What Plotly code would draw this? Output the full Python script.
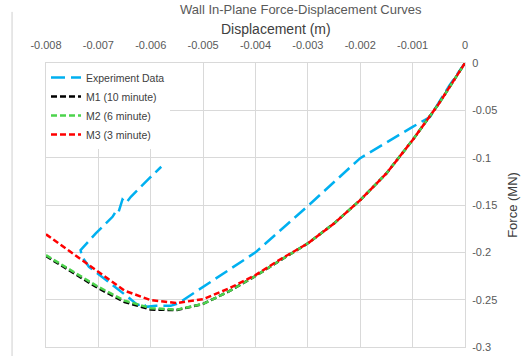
import plotly.graph_objects as go

# ---- data ----
exp_x = [0, -0.0003, -0.00067, -0.001, -0.002, -0.003, -0.004, -0.0045, -0.0051,
         -0.00548, -0.00562, -0.0059, -0.00609, -0.00615, -0.00625, -0.00644,
         -0.00718, -0.00731, -0.00734, -0.00705, -0.00673, -0.00667, -0.00662,
         -0.00654, -0.00647, -0.00638, -0.00603, -0.0058]
exp_y = [0, -0.024, -0.057, -0.0675, -0.1005, -0.151, -0.2, -0.218, -0.2395,
         -0.254, -0.2565, -0.2565, -0.2576, -0.2534, -0.2558, -0.247,
         -0.2153, -0.2048, -0.1977, -0.180, -0.1625, -0.157, -0.1585,
         -0.1441, -0.1477, -0.1413, -0.1219, -0.1096]

model_x = [-0.008, -0.0075, -0.007, -0.0065, -0.006, -0.0055, -0.005, -0.0045,
           -0.004, -0.0035, -0.003, -0.0025, -0.002, -0.0015, -0.001, -0.0005, 0]
m1_y = [-0.204, -0.221, -0.238, -0.2525, -0.2605, -0.261, -0.2545, -0.241,
        -0.225, -0.2075, -0.1905, -0.1695, -0.1448, -0.1166, -0.0814, -0.043, 0]
m2_y = [-0.203, -0.220, -0.2365, -0.251, -0.259, -0.2605, -0.2545, -0.241,
        -0.225, -0.2075, -0.1905, -0.1695, -0.1448, -0.1166, -0.0814, -0.043, 0]
m3_y = [-0.181, -0.201, -0.221, -0.2405, -0.2505, -0.2535, -0.2495, -0.238,
        -0.224, -0.2065, -0.1905, -0.1695, -0.1448, -0.1166, -0.0814, -0.043, 0]

x_tickvals = [-0.008, -0.007, -0.006, -0.005, -0.004, -0.003, -0.002, -0.001, 0]
x_ticktext = ["-0.008", "-0.007", "-0.006", "-0.005", "-0.004", "-0.003", "-0.002", "-0.001", "0"]
y_tickvals = [0, -0.05, -0.1, -0.15, -0.2, -0.25, -0.3]
y_ticktext = ["0", "-0.05", "-0.1", "-0.15", "-0.2", "-0.25", "-0.3"]

names = ["Experiment Data", "M1 (10 minute)", "M2 (6 minute)", "M3 (3 minute)"]
title_text = "Wall In-Plane Force-Displacement Curves"
x_title = "Displacement (m)"
y_title = "Force (MN)"

FONT = "Liberation Sans, Arial, sans-serif"
GRID = "#d9d9d9"
TXT = "#595959"

fig = go.Figure()
fig.add_trace(go.Scatter(x=exp_x, y=exp_y, mode="lines", name=names[0],
                         line=dict(color="#00b0f0", width=2.5, dash="14px,6px")))
fig.add_trace(go.Scatter(x=model_x, y=m1_y, mode="lines", name=names[1],
                         line=dict(color="#000000", width=2.5, dash="6px,3px")))
fig.add_trace(go.Scatter(x=model_x, y=m2_y, mode="lines", name=names[2],
                         line=dict(color="#4cd34c", width=2.5, dash="6px,3px")))
fig.add_trace(go.Scatter(x=model_x, y=m3_y, mode="lines", name=names[3],
                         line=dict(color="#ff0000", width=2.5, dash="6px,3px")))

fig.update_layout(
    width=526, height=356,
    margin=dict(l=46, r=61, t=63, b=9),
    paper_bgcolor="white", plot_bgcolor="white",
    font=dict(family=FONT, size=11, color=TXT),
    showlegend=True,
    legend=dict(x=0.0, y=1.0, xanchor="left", yanchor="top",
                bgcolor="white", borderwidth=0, itemwidth=30,
                font=dict(family=FONT, size=10.5, color="#404040"),
                tracegroupgap=0),
    xaxis=dict(range=[-0.008, 0], side="top", tickvals=x_tickvals, ticktext=x_ticktext,
               showgrid=True, gridcolor=GRID, gridwidth=1, zeroline=False,
               showline=True, linecolor=GRID, mirror=True, ticks="", automargin=False,
               ticklabelstandoff=9, tickfont=dict(size=11, color=TXT)),
    yaxis=dict(range=[-0.3, 0], side="right", tickvals=y_tickvals, ticktext=y_ticktext,
               showgrid=True, gridcolor=GRID, gridwidth=1, zeroline=False,
               showline=True, linecolor=GRID, mirror=True, ticks="", automargin=False,
               ticklabelstandoff=4, tickfont=dict(size=11, color=TXT),
               title=dict(text=y_title, standoff=11,
                          font=dict(family=FONT, size=13, color="#404040"))),
    annotations=[
        dict(text=title_text, xref="paper", yref="paper", x=0.6086, y=1.2218,
             xanchor="center", yanchor="top", showarrow=False,
             font=dict(family=FONT, size=13, color=TXT)),
        dict(text=x_title, xref="paper", yref="paper", x=0.549, y=1.118,
             xanchor="center", yanchor="middle", showarrow=False,
             font=dict(family=FONT, size=14, color="#404040")),
    ],
    shapes=[dict(type="line", xref="paper", yref="paper", x0=-0.081, x1=-0.081,
                 y0=-0.04, y1=1.18, line=dict(color="#cfcfcf", width=1))],
)

fig.write_html("out.html", config={"displayModeBar": False},
               post_script="document.body.style.margin='0px';")
